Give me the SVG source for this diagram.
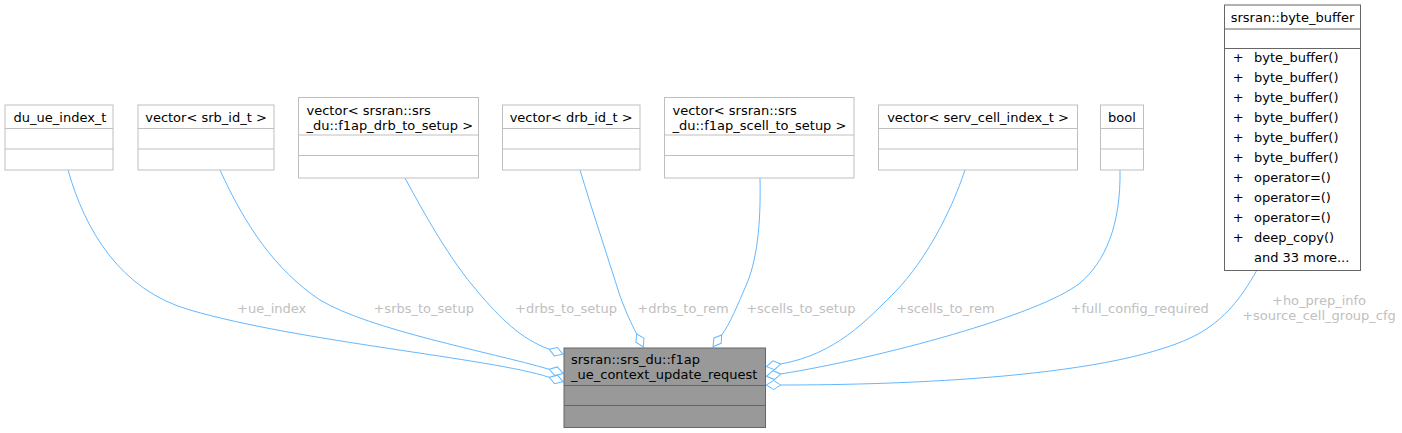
<svg xmlns="http://www.w3.org/2000/svg" width="1402" height="433" viewBox="0 0 1402 433">
<style>
text{font-family:"DejaVu Sans",sans-serif;font-size:13px;fill:#000}
.box{fill:#fff;stroke:#bfbfbf;stroke-width:1}
.dark{fill:#fff;stroke:#666;stroke-width:1}
.main{fill:#999;stroke:#666;stroke-width:1}
.sep{stroke:#bfbfbf;stroke-width:1}
.sepd{stroke:#666;stroke-width:1}
.edge{fill:none;stroke:#63b8ff;stroke-width:1;marker-end:url(#od)}
.lbl{fill:#c0c0c0;text-anchor:middle}
.mid{text-anchor:middle}
</style>
<defs>
<marker id="od" markerUnits="userSpaceOnUse" markerWidth="20" markerHeight="20" refX="0" refY="0" orient="auto" overflow="visible">
<path d="M0,0 L7,-4.5 L14.5,0 L7,4.5 Z" fill="#fff" stroke="#63b8ff" stroke-width="1"/>
</marker>
</defs>
<rect width="1402" height="433" fill="#fff"/>
<g id="connectors">
<path class="edge" d="M68,170 C85,230 120,290 190,310 C300,342 490,358 549.3,377.3"/>
<text class="lbl" x="271.7" y="313">+ue_index</text>
<path class="edge" d="M220,170 C245,225 275,270 320,300 C370,330 490,352 549.3,369.3"/>
<text class="lbl" x="423.7" y="313">+srbs_to_setup</text>
<path class="edge" d="M405,178 C425,215 450,260 478,292 C500,318 521,339 549.3,349.3"/>
<text class="lbl" x="566" y="313">+drbs_to_setup</text>
<path class="edge" d="M580,170 C592,210 608,258 620,296 C626,312 630.5,322 636.7,334"/>
<text class="lbl" x="683" y="313">+drbs_to_rem</text>
<path class="edge" d="M760,178 C761,225 757,262 745,288 C738,304 729.9,324 721.7,335"/>
<text class="lbl" x="800.8" y="313">+scells_to_setup</text>
<path class="edge" d="M965,170 C950,215 925,260 897,290 C865,322 835.7,354 780.7,364"/>
<text class="lbl" x="945.5" y="313">+scells_to_rem</text>
<path class="edge" d="M1120,170 C1121,225 1105,262 1080,283 C1040,315 880,358 780.7,374"/>
<text class="lbl" x="1139.7" y="313">+full_config_required</text>
<path class="edge" d="M1257,270 C1240,300 1225,318 1200,333 C1120,378 900,385 780.7,385"/>
<text class="lbl" x="1319" y="305">+ho_prep_info</text>
<text class="lbl" x="1319" y="319.5">+source_cell_group_cfg</text>
</g>
<g id="main">
<rect class="main" x="564" y="348" width="201.5" height="79.5"/>
<line class="sepd" x1="564" y1="385.5" x2="765.5" y2="385.5"/>
<line class="sepd" x1="564" y1="405.5" x2="765.5" y2="405.5"/>
<text x="571" y="364">srsran::srs_du::f1ap</text>
<text x="571" y="379">_ue_context_update_request</text>
</g>
<g id="du_ue_index_t">
<rect class="box" x="5" y="105" width="108" height="65"/>
<line class="sep" x1="5" y1="128.5" x2="113" y2="128.5"/>
<line class="sep" x1="5" y1="149" x2="113" y2="149"/>
<text class="mid" x="60" y="121.5">du_ue_index_t</text>
</g>
<g id="vector_srb">
<rect class="box" x="138" y="105" width="136" height="65"/>
<line class="sep" x1="138" y1="128.5" x2="274" y2="128.5"/>
<line class="sep" x1="138" y1="149" x2="274" y2="149"/>
<text class="mid" x="206" y="121.5">vector&lt; srb_id_t &gt;</text>
</g>
<g id="vector_drb_setup">
<rect class="box" x="298.5" y="97.5" width="180" height="80.5"/>
<line class="sep" x1="298.5" y1="135" x2="478.5" y2="135"/>
<line class="sep" x1="298.5" y1="155.5" x2="478.5" y2="155.5"/>
<text x="306.5" y="114.5">vector&lt; srsran::srs</text>
<text x="306.5" y="129.5">_du::f1ap_drb_to_setup &gt;</text>
</g>
<g id="vector_drb_id">
<rect class="box" x="502.5" y="105" width="137.5" height="65"/>
<line class="sep" x1="502.5" y1="128.5" x2="640" y2="128.5"/>
<line class="sep" x1="502.5" y1="149" x2="640" y2="149"/>
<text class="mid" x="571.2" y="121.5">vector&lt; drb_id_t &gt;</text>
</g>
<g id="vector_scell_setup">
<rect class="box" x="664.5" y="97.5" width="189.5" height="80.5"/>
<line class="sep" x1="664.5" y1="135" x2="854" y2="135"/>
<line class="sep" x1="664.5" y1="155.5" x2="854" y2="155.5"/>
<text x="672.5" y="114.5">vector&lt; srsran::srs</text>
<text x="672.5" y="129.5">_du::f1ap_scell_to_setup &gt;</text>
</g>
<g id="vector_serv_cell">
<rect class="box" x="878.5" y="105" width="199" height="65"/>
<line class="sep" x1="878.5" y1="128.5" x2="1077.5" y2="128.5"/>
<line class="sep" x1="878.5" y1="149" x2="1077.5" y2="149"/>
<text class="mid" x="978" y="121.5">vector&lt; serv_cell_index_t &gt;</text>
</g>
<g id="bool">
<rect class="box" x="1100.5" y="105" width="43" height="65"/>
<line class="sep" x1="1100.5" y1="128.5" x2="1143.5" y2="128.5"/>
<line class="sep" x1="1100.5" y1="149" x2="1143.5" y2="149"/>
<text class="mid" x="1122" y="121.5">bool</text>
</g>
<g id="byte_buffer">
<rect class="dark" x="1224.5" y="5" width="136" height="265.5"/>
<line class="sepd" x1="1224.5" y1="29" x2="1360.5" y2="29"/>
<line class="sepd" x1="1224.5" y1="48.5" x2="1360.5" y2="48.5"/>
<text class="mid" x="1292.5" y="21.5">srsran::byte_buffer</text>
<text x="1232.7" y="61.5">+</text><text x="1254" y="61.5">byte_buffer()</text>
<text x="1232.7" y="81.5">+</text><text x="1254" y="81.5">byte_buffer()</text>
<text x="1232.7" y="101.5">+</text><text x="1254" y="101.5">byte_buffer()</text>
<text x="1232.7" y="121.5">+</text><text x="1254" y="121.5">byte_buffer()</text>
<text x="1232.7" y="141.5">+</text><text x="1254" y="141.5">byte_buffer()</text>
<text x="1232.7" y="161.5">+</text><text x="1254" y="161.5">byte_buffer()</text>
<text x="1232.7" y="181.5">+</text><text x="1254" y="181.5">operator=()</text>
<text x="1232.7" y="201.5">+</text><text x="1254" y="201.5">operator=()</text>
<text x="1232.7" y="221.5">+</text><text x="1254" y="221.5">operator=()</text>
<text x="1232.7" y="241.5">+</text><text x="1254" y="241.5">deep_copy()</text>
<text x="1254" y="261.5">and 33 more...</text>
</g>
</svg>
